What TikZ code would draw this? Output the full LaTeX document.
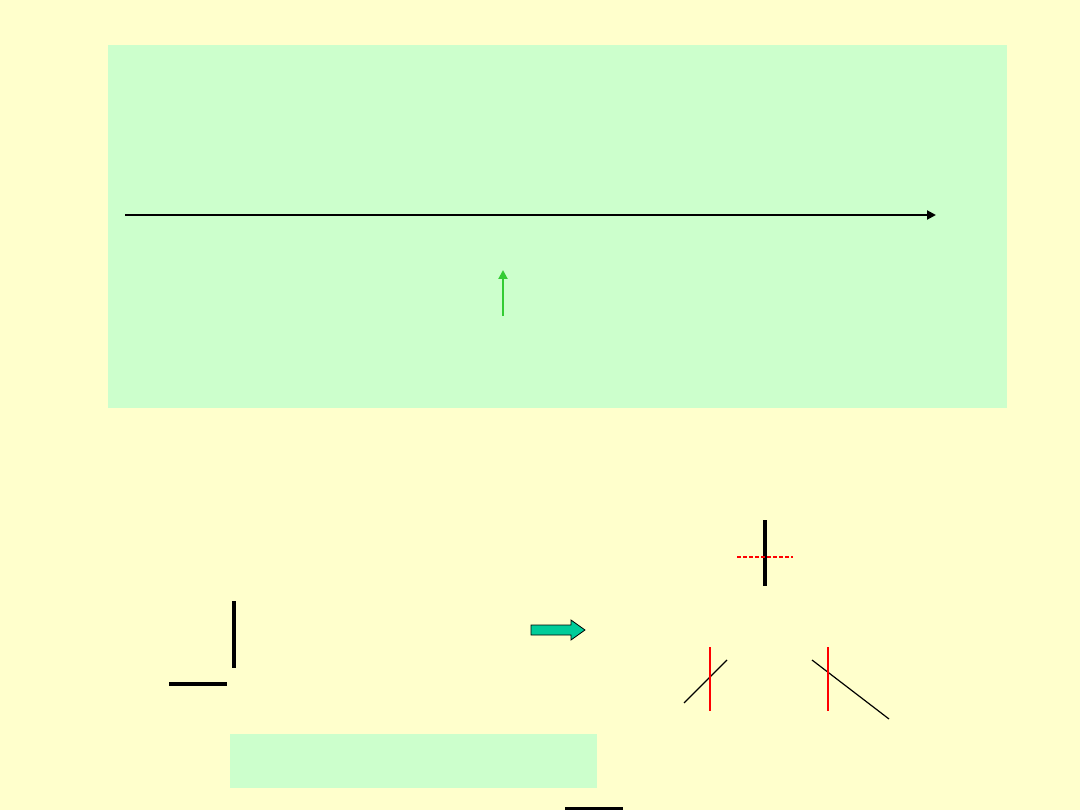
\documentclass[tikz,border=0pt]{standalone}
\usetikzlibrary{arrows.meta}
\definecolor{bgyellow}{HTML}{FFFFCC}
\definecolor{panelgreen}{HTML}{CCFFCC}
\definecolor{arrowgreen}{HTML}{33CC33}
\definecolor{teal}{HTML}{00CC99}
\begin{document}
\begin{tikzpicture}[x=1pt,y=-1pt,
  thickline/.style={line width=4pt},
  redline/.style={red,line width=2pt},
  thinline/.style={line width=1.2pt},
  panel/.style={fill=panelgreen,draw=none}]
\fill[bgyellow] (0,0) rectangle (1080,810);
\useasboundingbox (0,0) rectangle (1080,810);
% top panel
\fill[panel] (108,45) rectangle (1007,408);
\coordinate (axisStart) at (125,215);
\coordinate (axisEnd) at (936,215);
\draw[line width=2pt,-{Triangle[length=9pt,width=9pt]}] (axisStart) -- (axisEnd);
\coordinate (gStart) at (503,316);
\coordinate (gEnd) at (503,270);
\draw[arrowgreen,line width=2pt,-{Triangle[length=9pt,width=9pt]}] (gStart) -- (gEnd);
% left L shape
\draw[thickline] (234,601) -- (234,668);
\draw[thickline] (169,684) -- (227,684);
% lower panel
\fill[panel] (230,734) rectangle (597,788);
% bottom line
\draw[thickline] (565,809) -- (623,809);
% block arrow
\draw[fill=teal,draw=black,line width=0.8pt]
  (531,625) -- (571,625) -- (571,620) -- (585,630) -- (571,640) -- (571,635) -- (531,635) -- cycle;
% cross
\draw[thickline] (765,520) -- (765,586);
\draw[redline,dashed,dash pattern=on 4pt off 2pt,line width=1.6pt] (737,557) -- (793,557);
% red lines with diagonals
\draw[thinline] (684,703) -- (727,660);
\draw[redline] (710,647) -- (710,711);
\draw[thinline] (812,660) -- (889,719);
\draw[redline] (828,647) -- (828,711);
\end{tikzpicture}
\end{document}
